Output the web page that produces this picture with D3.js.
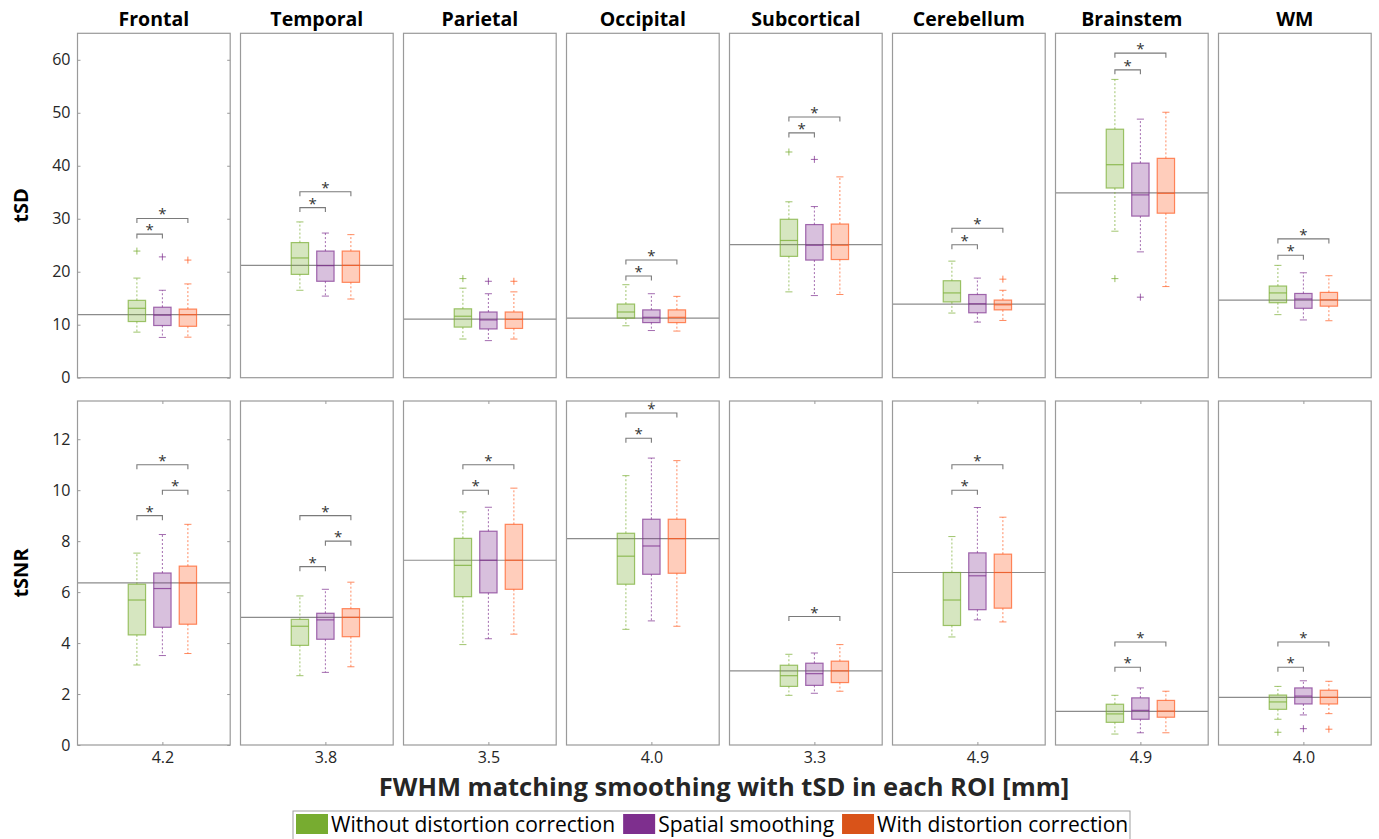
<!DOCTYPE html>
<html>
<head>
<meta charset="utf-8">
<script src="https://cdn.jsdelivr.net/npm/d3@7"></script>
<style>
  body { margin: 0; background: #fff; }
  svg { display: block; }
</style>
</head>
<body>
<div id="chart"></div>
<script>
// ROI names and the FWHM value shown under each column
var regions = ["Frontal", "Temporal", "Parietal", "Occipital", "Subcortical", "Cerebellum", "Brainstem", "WM"];
var fwhmLabels = ["4.2", "3.8", "3.5", "4.0", "3.3", "4.9", "4.9", "4.0"];
var groups = ["Without distortion correction", "Spatial smoothing", "With distortion correction"];

// box stats per ROI, per group: [lower whisker, q1, median, q3, upper whisker]
var tsdStats = [
  [[8.6, 10.6, 13.1, 14.6, 18.8], [7.6, 9.85, 11.8, 13.3, 16.5], [7.65, 9.7, 11.9, 12.95, 17.7]],
  [[16.5, 19.5, 22.6, 25.5, 29.4], [15.4, 18.2, 21.15, 23.9, 27.3], [14.85, 18.0, 21.2, 23.9, 27.0]],
  [[7.3, 9.55, 11.6, 13.0, 16.9], [7.0, 9.2, 10.9, 12.4, 15.85], [7.3, 9.3, 11.0, 12.4, 16.2]],
  [[9.8, 11.25, 12.4, 13.9, 17.55], [8.9, 10.4, 11.4, 12.8, 15.85], [8.8, 10.4, 11.4, 12.8, 15.35]],
  [[16.2, 22.9, 25.9, 29.9, 33.2], [15.5, 22.2, 25.0, 28.9, 32.3], [15.7, 22.3, 25.0, 29.0, 37.9]],
  [[12.2, 14.3, 16.0, 18.3, 22.0], [10.5, 12.25, 13.95, 15.7, 18.8], [10.8, 12.8, 13.75, 14.65, 16.5]],
  [[27.65, 35.8, 40.2, 46.9, 56.3], [23.75, 30.5, 34.5, 40.5, 48.8], [17.2, 31.05, 34.8, 41.4, 50.1]],
  [[11.9, 14.15, 16.0, 17.3, 21.2], [10.9, 13.1, 14.85, 15.9, 19.8], [10.75, 13.5, 14.7, 16.1, 19.25]]
];
var tsnrStats = [
  [[3.14, 4.32, 5.69, 6.31, 7.53], [3.51, 4.62, 6.14, 6.75, 8.26], [3.59, 4.74, 6.36, 7.02, 8.66]],
  [[2.72, 3.91, 4.66, 4.93, 5.85], [2.85, 4.15, 4.91, 5.17, 6.11], [3.07, 4.25, 5.01, 5.35, 6.39]],
  [[3.94, 5.82, 7.05, 8.11, 9.15], [4.17, 5.97, 7.25, 8.39, 9.33], [4.35, 6.11, 7.25, 8.66, 10.08]],
  [[4.54, 6.31, 7.41, 8.31, 10.57], [4.87, 6.70, 7.81, 8.86, 11.26], [4.66, 6.74, 8.1, 8.86, 11.16]],
  [[1.95, 2.3, 2.72, 3.13, 3.56], [2.03, 2.34, 2.8, 3.21, 3.61], [2.11, 2.45, 2.91, 3.29, 3.94]],
  [[4.24, 4.69, 5.69, 6.77, 8.18], [4.91, 5.31, 6.64, 7.54, 9.32], [4.83, 5.37, 6.77, 7.49, 8.94]],
  [[0.43, 0.89, 1.22, 1.6, 1.95], [0.48, 1.01, 1.36, 1.85, 2.24], [0.48, 1.09, 1.33, 1.75, 2.11]],
  [[1.01, 1.4, 1.69, 1.96, 2.3], [1.18, 1.61, 1.92, 2.24, 2.52], [1.23, 1.61, 1.87, 2.15, 2.5]]
];

// outliers: [roi, group, value]
var tsdOutliers = [[0, 0, 23.9], [0, 1, 22.8], [0, 2, 22.2], [2, 0, 18.7], [2, 1, 18.2], [2, 2, 18.2],
  [4, 0, 42.6], [4, 1, 41.2], [5, 2, 18.6], [6, 0, 18.7], [6, 1, 15.2]];
var tsnrOutliers = [[7, 0, 0.5], [7, 1, 0.64], [7, 2, 0.62]];

// gray reference line per ROI
var tsdRef = [11.9, 21.2, 11.05, 11.25, 25.1, 13.9, 34.9, 14.65];
var tsnrRef = [6.36, 5.01, 7.25, 8.1, 2.91, 6.77, 1.32, 1.87];

// significance brackets: [roi, from group, to group, height]
var tsdSig = [[0, 0, 1, 27.1], [0, 0, 2, 30.05], [1, 0, 1, 32.1], [1, 0, 2, 35.1], [3, 0, 1, 19.2], [3, 0, 2, 22.2],
  [4, 0, 1, 46.2], [4, 0, 2, 49.2], [5, 0, 1, 25.1], [5, 0, 2, 28.2], [6, 0, 1, 58.1], [6, 0, 2, 61.25],
  [7, 0, 1, 23.1], [7, 0, 2, 26.2]];
var tsnrSig = [[0, 0, 1, 9.0], [0, 1, 2, 10.0], [0, 0, 2, 11.0], [1, 0, 1, 7.0], [1, 1, 2, 8.0], [1, 0, 2, 9.0],
  [2, 0, 1, 10.0], [2, 0, 2, 11.0], [3, 0, 1, 12.04], [3, 0, 2, 13.03], [4, 0, 2, 5.04],
  [5, 0, 1, 10.0], [5, 0, 2, 11.0], [6, 0, 1, 3.05], [6, 0, 2, 4.04], [7, 0, 1, 3.05], [7, 0, 2, 4.04]];

var tsdTicks = [0, 10, 20, 30, 40, 50, 60];
var tsnrTicks = [0, 2, 4, 6, 8, 10, 12];

var boxColors = ["#77ac30", "#7e2f8e", "#ff5a1f"];
var legendColors = ["#77ac30", "#7e2f8e", "#d95319"];

var width = 1379, height = 839;
var svg = d3.select("#chart").append("svg")
  .attr("width", width)
  .attr("height", height)
  .style("font-family", "'Open Sans', sans-serif");

var panelLeft = 77.5, panelStep = 163.0, panelW = 152.7;
var tickColor = "#262626", frameColor = "#9a9a9a";

var rows = [
  {label: "tSD", top: 33.3, bottom: 377.7, domain: [0, 65], ticks: tsdTicks, stats: tsdStats,
   outliers: tsdOutliers, ref: tsdRef, sig: tsdSig, xticks: false},
  {label: "tSNR", top: 401, bottom: 745, domain: [0, 13.5], ticks: tsnrTicks, stats: tsnrStats,
   outliers: tsnrOutliers, ref: tsnrRef, sig: tsnrSig, xticks: true}
];

// boxes sit at 1,2,3 inside every panel
var x = d3.scaleLinear().domain([-1.33, 4.66]).range([0, panelW]);
var boxHalf = 0.34, capHalf = 0.14;

// ROI titles
svg.selectAll(".roi-title")
  .data(regions)
  .enter().append("text")
    .attr("x", function(d, i) { return panelLeft + i * panelStep + panelW / 2; })
    .attr("y", 26)
    .attr("text-anchor", "middle")
    .attr("font-size", 19.5)
    .attr("font-weight", "bold")
    .attr("fill", "#000")
    .text(function(d) { return d; });

rows.forEach(function(row) {
  var y = d3.scaleLinear().domain(row.domain).range([row.bottom, row.top]);

  // y axis label
  svg.append("text")
    .attr("transform", "translate(28," + ((row.top + row.bottom) / 2) + ") rotate(-90)")
    .attr("text-anchor", "middle")
    .attr("font-size", 20)
    .attr("font-weight", "bold")
    .text(row.label);

  regions.forEach(function(roi, i) {
    var g = svg.append("g")
      .attr("transform", "translate(" + (panelLeft + i * panelStep) + ",0)");

    // reference line
    g.append("line")
      .attr("x1", 0).attr("x2", panelW)
      .attr("y1", y(row.ref[i])).attr("y2", y(row.ref[i]))
      .attr("stroke", "#8c8c8c")
      .attr("stroke-width", 1.2);

    var st = row.stats[i];
    var boxes = g.selectAll(".box")
      .data(st)
      .enter().append("g");

    // whiskers
    boxes.append("line")
      .attr("x1", function(d, k) { return x(k + 1); })
      .attr("x2", function(d, k) { return x(k + 1); })
      .attr("y1", function(d) { return y(d[3]); })
      .attr("y2", function(d) { return y(d[4]); })
      .attr("stroke", function(d, k) { return boxColors[k]; })
      .attr("stroke-opacity", 0.7)
      .attr("stroke-dasharray", "2,2");
    boxes.append("line")
      .attr("x1", function(d, k) { return x(k + 1); })
      .attr("x2", function(d, k) { return x(k + 1); })
      .attr("y1", function(d) { return y(d[1]); })
      .attr("y2", function(d) { return y(d[0]); })
      .attr("stroke", function(d, k) { return boxColors[k]; })
      .attr("stroke-opacity", 0.7)
      .attr("stroke-dasharray", "2,2");

    // caps
    [0, 4].forEach(function(j) {
      boxes.append("line")
        .attr("x1", function(d, k) { return x(k + 1 - capHalf); })
        .attr("x2", function(d, k) { return x(k + 1 + capHalf); })
        .attr("y1", function(d) { return y(d[j]); })
        .attr("y2", function(d) { return y(d[j]); })
        .attr("stroke", function(d, k) { return boxColors[k]; })
        .attr("stroke-opacity", 0.7);
    });

    // box
    boxes.append("rect")
      .attr("x", function(d, k) { return x(k + 1 - boxHalf); })
      .attr("width", x(2 * boxHalf) - x(0))
      .attr("y", function(d) { return y(d[3]); })
      .attr("height", function(d) { return y(d[1]) - y(d[3]); })
      .attr("fill", function(d, k) { return boxColors[k]; })
      .attr("fill-opacity", 0.3)
      .attr("stroke", function(d, k) { return boxColors[k]; })
      .attr("stroke-opacity", 0.7)
      .attr("stroke-width", 1.2);

    // median
    boxes.append("line")
      .attr("x1", function(d, k) { return x(k + 1 - boxHalf); })
      .attr("x2", function(d, k) { return x(k + 1 + boxHalf); })
      .attr("y1", function(d) { return y(d[2]); })
      .attr("y2", function(d) { return y(d[2]); })
      .attr("stroke", function(d, k) { return boxColors[k]; })
      .attr("stroke-opacity", 0.75)
      .attr("stroke-width", 1.2);

    // outliers as "+"
    g.selectAll(".out")
      .data(row.outliers.filter(function(o) { return o[0] === i; }))
      .enter().append("path")
        .attr("d", function(o) {
          var cx = x(o[1] + 1), cy = y(o[2]);
          return "M" + (cx - 3.5) + "," + cy + "H" + (cx + 3.5) + "M" + cx + "," + (cy - 3.5) + "V" + (cy + 3.5);
        })
        .attr("stroke", function(o) { return boxColors[o[1]]; })
        .attr("stroke-opacity", 0.75)
        .attr("fill", "none");

    // significance brackets
    var sig = g.selectAll(".sig")
      .data(row.sig.filter(function(s) { return s[0] === i; }))
      .enter().append("g");
    sig.append("path")
      .attr("d", function(s) {
        var yy = y(s[3]);
        return "M" + x(s[1] + 1) + "," + (yy + 4.5) + "V" + yy + "H" + x(s[2] + 1) + "V" + (yy + 4.5);
      })
      .attr("fill", "none")
      .attr("stroke", "#7a7a7a")
      .attr("stroke-width", 1.1);
    sig.append("text")
      .attr("x", function(s) { return (x(s[1] + 1) + x(s[2] + 1)) / 2; })
      .attr("y", function(s) { return y(s[3]) + 1; })
      .attr("text-anchor", "middle")
      .attr("font-size", 15)
      .attr("fill", "#333")
      .text("*");

    // frame
    g.append("rect")
      .attr("x", 0).attr("y", row.top)
      .attr("width", panelW).attr("height", row.bottom - row.top)
      .attr("fill", "none")
      .attr("stroke", frameColor)
      .attr("stroke-width", 1.2);

    // y ticks only on the first column (inside, both sides)
    if (i === 0) {
      g.append("g")
        .call(d3.axisLeft(y).tickValues(row.ticks).tickSize(-3).tickPadding(7))
        .call(function(a) {
          a.select(".domain").remove();
          a.selectAll("line").attr("stroke", frameColor);
          a.selectAll("text").attr("font-size", 16).attr("fill", tickColor)
            .attr("font-family", "'Open Sans', sans-serif");
        });
      g.append("g")
        .attr("transform", "translate(" + panelW + ",0)")
        .call(d3.axisRight(y).tickValues(row.ticks).tickSize(-3).tickFormat(""))
        .call(function(a) {
          a.select(".domain").remove();
          a.selectAll("line").attr("stroke", frameColor);
        });
    }

    // x tick + FWHM label under the bottom row
    if (row.xticks) {
      g.append("g")
        .attr("transform", "translate(0," + row.bottom + ")")
        .call(d3.axisBottom(x).tickValues([2]).tickSize(-3).tickPadding(7)
          .tickFormat(function() { return fwhmLabels[i]; }))
        .call(function(a) {
          a.select(".domain").remove();
          a.selectAll("line").attr("stroke", frameColor);
          a.selectAll("text").attr("font-size", 16).attr("fill", tickColor)
            .attr("font-family", "'Open Sans', sans-serif");
        });
      g.append("g")
        .attr("transform", "translate(0," + row.top + ")")
        .call(d3.axisTop(x).tickValues([2]).tickSize(-3).tickFormat(""))
        .call(function(a) {
          a.select(".domain").remove();
          a.selectAll("line").attr("stroke", frameColor);
        });
    }
  });
});

// x axis title
svg.append("text")
  .attr("x", 724)
  .attr("y", 796)
  .attr("text-anchor", "middle")
  .attr("font-size", 25.5)
  .attr("font-weight", "bold")
  .attr("fill", "#262626")
  .text("FWHM matching smoothing with tSD in each ROI [mm]");

// legend
var legendX = 293, legendY = 811;
var legend = svg.append("g");
legend.append("rect")
  .attr("x", legendX).attr("y", legendY)
  .attr("width", 837).attr("height", 40)
  .attr("fill", "#fff")
  .attr("stroke", "#a0a0a0");

var cursor = legendX + 3;
groups.forEach(function(name, k) {
  legend.append("rect")
    .attr("x", cursor).attr("y", legendY + 3)
    .attr("width", 32).attr("height", 20)
    .attr("fill", legendColors[k]);
  var t = legend.append("text")
    .attr("x", cursor + 35)
    .attr("y", legendY + 21)
    .attr("font-size", 21)
    .attr("fill", "#000")
    .text(name);
  cursor += 35 + t.node().getComputedTextLength() + 8;
});
</script>
</body>
</html>
